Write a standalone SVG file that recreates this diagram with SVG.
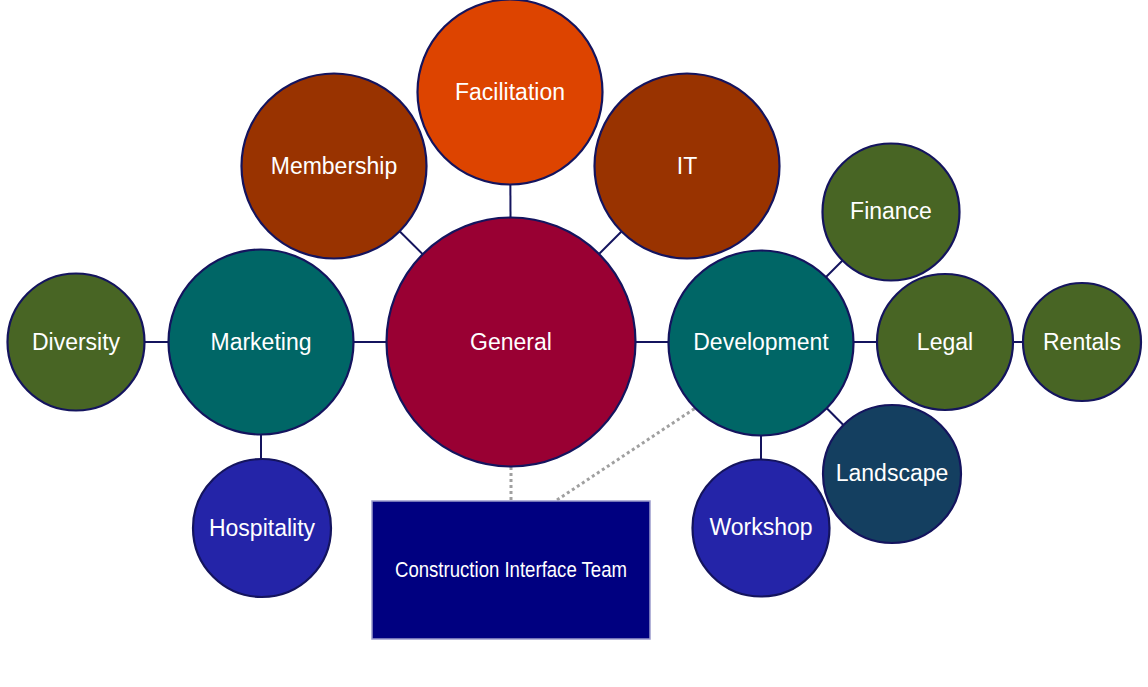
<svg xmlns="http://www.w3.org/2000/svg" width="1148" height="687" viewBox="0 0 1148 687">
<style>
.n{stroke:#14145e;stroke-width:2.2}
.c{stroke:#14145e;stroke-width:2;fill:none}
.d{stroke:#a0a0a0;stroke-width:3;stroke-dasharray:3 3;fill:none}
.t{font-family:"Liberation Sans",Arial,sans-serif;font-size:23px;fill:#ffffff;text-anchor:middle}
.red{fill:#990033}.org{fill:#dd4400}.brn{fill:#993300}.teal{fill:#006666}.grn{fill:#486524}.blu{fill:#2424a8}.sea{fill:#143f60}
</style>
<rect width="1148" height="687" fill="#ffffff"/>
<g id="connectors">
<line class="c" x1="510" y1="92" x2="511" y2="342"/>
<line class="c" x1="334" y1="166" x2="511" y2="342"/>
<line class="c" x1="687" y1="166" x2="511" y2="342"/>
<line class="c" x1="76" y1="342" x2="761" y2="342"/>
<line class="c" x1="261" y1="342" x2="261" y2="528"/>
<line class="c" x1="761" y1="342" x2="761" y2="528"/>
<line class="c" x1="761" y1="342" x2="891" y2="212"/>
<line class="c" x1="761" y1="342" x2="892" y2="474"/>
<line class="c" x1="761" y1="342" x2="1082" y2="342"/>
<line class="d" x1="511" y1="467" x2="511" y2="500"/>
<line class="d" x1="557" y1="500" x2="697" y2="407"/>
</g>
<g id="general"><circle class="n red" cx="511" cy="342" r="124.5"/><text class="t" x="511" y="350">General</text></g>
<g id="facilitation"><circle class="n org" cx="510" cy="92" r="92.5"/><text class="t" x="510" y="100">Facilitation</text></g>
<g id="membership"><circle class="n brn" cx="334" cy="166" r="92.5"/><text class="t" x="334" y="174">Membership</text></g>
<g id="it"><circle class="n brn" cx="687" cy="166" r="92.5"/><text class="t" x="687" y="174">IT</text></g>
<g id="marketing"><circle class="n teal" cx="261" cy="342" r="92.5"/><text class="t" x="261" y="350">Marketing</text></g>
<g id="diversity"><circle class="n grn" cx="76" cy="342" r="68.5"/><text class="t" x="76" y="350">Diversity</text></g>
<g id="hospitality"><circle class="n blu" cx="262" cy="528" r="69"/><text class="t" x="262" y="536">Hospitality</text></g>
<g id="development"><circle class="n teal" cx="761" cy="343" r="92.5"/><text class="t" x="761" y="350">Development</text></g>
<g id="finance"><circle class="n grn" cx="891" cy="212" r="68.5"/><text class="t" x="891" y="219">Finance</text></g>
<g id="legal"><circle class="n grn" cx="945" cy="342" r="68"/><text class="t" x="945" y="350">Legal</text></g>
<g id="rentals"><circle class="n grn" cx="1082" cy="342" r="59"/><text class="t" x="1082" y="350">Rentals</text></g>
<g id="landscape"><circle class="n sea" cx="892" cy="474" r="69"/><text class="t" x="892" y="481">Landscape</text></g>
<g id="workshop"><circle class="n blu" cx="761" cy="528" r="68.5"/><text class="t" x="761" y="535">Workshop</text></g>
<g id="construction-interface-team"><rect x="372" y="501" width="278" height="138" fill="#000080" stroke="#9a9acc" stroke-width="1.5"/><text x="511" y="577" font-family="'Liberation Sans',Arial,sans-serif" font-size="22" fill="#ffffff" text-anchor="middle" textLength="232" lengthAdjust="spacingAndGlyphs">Construction Interface Team</text></g>
</svg>
